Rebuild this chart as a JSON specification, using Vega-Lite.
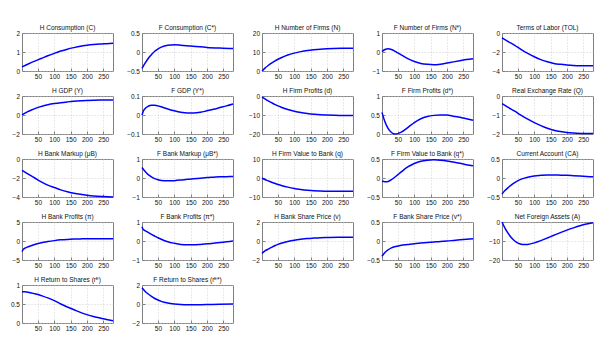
{
  "$schema": "https://vega.github.io/schema/vega-lite/v6.json",
  "padding": {"left": 3, "top": 24, "right": 5, "bottom": 5},
  "background": "white",
  "data": {"values": [
    {"p":"C","t":1,"v":0.22},{"p":"C","t":20,"v":0.37},{"p":"C","t":40,"v":0.52},{"p":"C","t":60,"v":0.66},{"p":"C","t":80,"v":0.8},{"p":"C","t":100,"v":0.93},{"p":"C","t":120,"v":1.05},{"p":"C","t":140,"v":1.15},{"p":"C","t":160,"v":1.23},{"p":"C","t":180,"v":1.3},{"p":"C","t":200,"v":1.35},{"p":"C","t":220,"v":1.39},{"p":"C","t":240,"v":1.42},{"p":"C","t":260,"v":1.44},{"p":"C","t":280,"v":1.46},
    {"p":"Cs","t":1,"v":-0.43},{"p":"Cs","t":10,"v":-0.3},{"p":"Cs","t":20,"v":-0.17},{"p":"Cs","t":30,"v":-0.07},{"p":"Cs","t":40,"v":0.02},{"p":"Cs","t":50,"v":0.08},{"p":"Cs","t":60,"v":0.13},{"p":"Cs","t":80,"v":0.18},{"p":"Cs","t":100,"v":0.19},{"p":"Cs","t":120,"v":0.18},{"p":"Cs","t":150,"v":0.155},{"p":"Cs","t":200,"v":0.12},{"p":"Cs","t":250,"v":0.1},{"p":"Cs","t":280,"v":0.09},
    {"p":"N","t":1,"v":0},{"p":"N","t":10,"v":1.5},{"p":"N","t":20,"v":2.9},{"p":"N","t":30,"v":4.1},{"p":"N","t":40,"v":5.2},{"p":"N","t":50,"v":6.2},{"p":"N","t":60,"v":7},{"p":"N","t":80,"v":8.4},{"p":"N","t":100,"v":9.4},{"p":"N","t":120,"v":10.2},{"p":"N","t":140,"v":10.8},{"p":"N","t":160,"v":11.2},{"p":"N","t":180,"v":11.5},{"p":"N","t":200,"v":11.7},{"p":"N","t":220,"v":11.85},{"p":"N","t":250,"v":11.95},{"p":"N","t":280,"v":12},
    {"p":"Ns","t":1,"v":0.02},{"p":"Ns","t":10,"v":0.13},{"p":"Ns","t":20,"v":0.17},{"p":"Ns","t":30,"v":0.13},{"p":"Ns","t":40,"v":0.05},{"p":"Ns","t":50,"v":-0.05},{"p":"Ns","t":60,"v":-0.15},{"p":"Ns","t":80,"v":-0.35},{"p":"Ns","t":100,"v":-0.5},{"p":"Ns","t":120,"v":-0.6},{"p":"Ns","t":140,"v":-0.65},{"p":"Ns","t":160,"v":-0.67},{"p":"Ns","t":180,"v":-0.64},{"p":"Ns","t":200,"v":-0.58},{"p":"Ns","t":220,"v":-0.52},{"p":"Ns","t":240,"v":-0.46},{"p":"Ns","t":260,"v":-0.4},{"p":"Ns","t":280,"v":-0.35},
    {"p":"TOL","t":1,"v":-0.5},{"p":"TOL","t":20,"v":-0.9},{"p":"TOL","t":40,"v":-1.3},{"p":"TOL","t":60,"v":-1.75},{"p":"TOL","t":80,"v":-2.15},{"p":"TOL","t":100,"v":-2.5},{"p":"TOL","t":120,"v":-2.8},{"p":"TOL","t":140,"v":-3.02},{"p":"TOL","t":160,"v":-3.2},{"p":"TOL","t":180,"v":-3.3},{"p":"TOL","t":200,"v":-3.37},{"p":"TOL","t":220,"v":-3.42},{"p":"TOL","t":250,"v":-3.45},{"p":"TOL","t":280,"v":-3.46},
    {"p":"Y","t":1,"v":0},{"p":"Y","t":10,"v":0.2},{"p":"Y","t":20,"v":0.38},{"p":"Y","t":30,"v":0.53},{"p":"Y","t":40,"v":0.67},{"p":"Y","t":50,"v":0.8},{"p":"Y","t":60,"v":0.9},{"p":"Y","t":80,"v":1.07},{"p":"Y","t":100,"v":1.2},{"p":"Y","t":120,"v":1.3},{"p":"Y","t":140,"v":1.38},{"p":"Y","t":160,"v":1.45},{"p":"Y","t":180,"v":1.5},{"p":"Y","t":200,"v":1.53},{"p":"Y","t":240,"v":1.57},{"p":"Y","t":280,"v":1.58},
    {"p":"Ys","t":1,"v":0.0},{"p":"Ys","t":5,"v":0.02},{"p":"Ys","t":10,"v":0.033},{"p":"Ys","t":20,"v":0.046},{"p":"Ys","t":30,"v":0.051},{"p":"Ys","t":40,"v":0.051},{"p":"Ys","t":50,"v":0.048},{"p":"Ys","t":60,"v":0.043},{"p":"Ys","t":80,"v":0.032},{"p":"Ys","t":100,"v":0.022},{"p":"Ys","t":120,"v":0.014},{"p":"Ys","t":140,"v":0.01},{"p":"Ys","t":160,"v":0.01},{"p":"Ys","t":180,"v":0.014},{"p":"Ys","t":200,"v":0.022},{"p":"Ys","t":220,"v":0.03},{"p":"Ys","t":240,"v":0.039},{"p":"Ys","t":260,"v":0.048},{"p":"Ys","t":280,"v":0.058},
    {"p":"d","t":1,"v":-0.5},{"p":"d","t":10,"v":-1.5},{"p":"d","t":20,"v":-2.6},{"p":"d","t":30,"v":-3.5},{"p":"d","t":40,"v":-4.4},{"p":"d","t":50,"v":-5.2},{"p":"d","t":60,"v":-5.9},{"p":"d","t":80,"v":-7.1},{"p":"d","t":100,"v":-8.0},{"p":"d","t":120,"v":-8.7},{"p":"d","t":140,"v":-9.2},{"p":"d","t":160,"v":-9.6},{"p":"d","t":180,"v":-9.9},{"p":"d","t":200,"v":-10.05},{"p":"d","t":240,"v":-10.25},{"p":"d","t":280,"v":-10.3},
    {"p":"ds","t":1,"v":0.57},{"p":"ds","t":5,"v":0.45},{"p":"ds","t":10,"v":0.32},{"p":"ds","t":20,"v":0.14},{"p":"ds","t":30,"v":0.04},{"p":"ds","t":40,"v":0.0},{"p":"ds","t":50,"v":0.01},{"p":"ds","t":60,"v":0.05},{"p":"ds","t":80,"v":0.17},{"p":"ds","t":100,"v":0.3},{"p":"ds","t":120,"v":0.4},{"p":"ds","t":140,"v":0.46},{"p":"ds","t":160,"v":0.49},{"p":"ds","t":180,"v":0.5},{"p":"ds","t":200,"v":0.5},{"p":"ds","t":220,"v":0.47},{"p":"ds","t":240,"v":0.44},{"p":"ds","t":260,"v":0.4},{"p":"ds","t":280,"v":0.36},
    {"p":"Q","t":1,"v":-0.4},{"p":"Q","t":20,"v":-0.6},{"p":"Q","t":40,"v":-0.8},{"p":"Q","t":60,"v":-1.02},{"p":"Q","t":80,"v":-1.22},{"p":"Q","t":100,"v":-1.4},{"p":"Q","t":120,"v":-1.56},{"p":"Q","t":140,"v":-1.7},{"p":"Q","t":160,"v":-1.8},{"p":"Q","t":180,"v":-1.87},{"p":"Q","t":200,"v":-1.92},{"p":"Q","t":220,"v":-1.95},{"p":"Q","t":250,"v":-1.97},{"p":"Q","t":280,"v":-1.98},
    {"p":"mu","t":1,"v":-1.2},{"p":"mu","t":20,"v":-1.6},{"p":"mu","t":40,"v":-2.0},{"p":"mu","t":60,"v":-2.4},{"p":"mu","t":80,"v":-2.75},{"p":"mu","t":100,"v":-3.0},{"p":"mu","t":120,"v":-3.25},{"p":"mu","t":140,"v":-3.45},{"p":"mu","t":160,"v":-3.6},{"p":"mu","t":180,"v":-3.72},{"p":"mu","t":200,"v":-3.82},{"p":"mu","t":220,"v":-3.9},{"p":"mu","t":250,"v":-3.96},{"p":"mu","t":280,"v":-3.99},
    {"p":"mus","t":1,"v":0.55},{"p":"mus","t":10,"v":0.35},{"p":"mus","t":20,"v":0.18},{"p":"mus","t":30,"v":0.06},{"p":"mus","t":40,"v":-0.03},{"p":"mus","t":50,"v":-0.09},{"p":"mus","t":60,"v":-0.13},{"p":"mus","t":80,"v":-0.15},{"p":"mus","t":100,"v":-0.14},{"p":"mus","t":120,"v":-0.11},{"p":"mus","t":140,"v":-0.07},{"p":"mus","t":160,"v":-0.04},{"p":"mus","t":180,"v":-0.01},{"p":"mus","t":200,"v":0.02},{"p":"mus","t":220,"v":0.04},{"p":"mus","t":240,"v":0.06},{"p":"mus","t":260,"v":0.07},{"p":"mus","t":280,"v":0.08},
    {"p":"q","t":1,"v":0},{"p":"q","t":10,"v":-0.8},{"p":"q","t":20,"v":-1.5},{"p":"q","t":30,"v":-2.2},{"p":"q","t":40,"v":-2.8},{"p":"q","t":50,"v":-3.4},{"p":"q","t":60,"v":-3.9},{"p":"q","t":80,"v":-4.8},{"p":"q","t":100,"v":-5.5},{"p":"q","t":120,"v":-6.0},{"p":"q","t":140,"v":-6.4},{"p":"q","t":160,"v":-6.7},{"p":"q","t":180,"v":-6.85},{"p":"q","t":200,"v":-6.95},{"p":"q","t":240,"v":-7.0},{"p":"q","t":280,"v":-7.0},
    {"p":"qs","t":1,"v":-0.08},{"p":"qs","t":10,"v":-0.1},{"p":"qs","t":20,"v":-0.09},{"p":"qs","t":30,"v":-0.04},{"p":"qs","t":40,"v":0.02},{"p":"qs","t":50,"v":0.09},{"p":"qs","t":60,"v":0.16},{"p":"qs","t":80,"v":0.29},{"p":"qs","t":100,"v":0.38},{"p":"qs","t":120,"v":0.44},{"p":"qs","t":140,"v":0.47},{"p":"qs","t":160,"v":0.48},{"p":"qs","t":180,"v":0.47},{"p":"qs","t":200,"v":0.45},{"p":"qs","t":220,"v":0.42},{"p":"qs","t":240,"v":0.39},{"p":"qs","t":260,"v":0.35},{"p":"qs","t":280,"v":0.32},
    {"p":"CA","t":1,"v":-0.42},{"p":"CA","t":10,"v":-0.33},{"p":"CA","t":20,"v":-0.25},{"p":"CA","t":30,"v":-0.18},{"p":"CA","t":40,"v":-0.12},{"p":"CA","t":50,"v":-0.07},{"p":"CA","t":60,"v":-0.03},{"p":"CA","t":80,"v":0.02},{"p":"CA","t":100,"v":0.055},{"p":"CA","t":120,"v":0.07},{"p":"CA","t":140,"v":0.08},{"p":"CA","t":160,"v":0.08},{"p":"CA","t":180,"v":0.075},{"p":"CA","t":200,"v":0.07},{"p":"CA","t":220,"v":0.06},{"p":"CA","t":240,"v":0.05},{"p":"CA","t":260,"v":0.04},{"p":"CA","t":280,"v":0.03},
    {"p":"pi","t":1,"v":-2.8},{"p":"pi","t":5,"v":-2.2},{"p":"pi","t":10,"v":-1.9},{"p":"pi","t":20,"v":-1.5},{"p":"pi","t":30,"v":-1.2},{"p":"pi","t":40,"v":-0.9},{"p":"pi","t":50,"v":-0.65},{"p":"pi","t":60,"v":-0.45},{"p":"pi","t":80,"v":-0.15},{"p":"pi","t":100,"v":0.1},{"p":"pi","t":120,"v":0.3},{"p":"pi","t":140,"v":0.42},{"p":"pi","t":160,"v":0.5},{"p":"pi","t":180,"v":0.55},{"p":"pi","t":200,"v":0.58},{"p":"pi","t":240,"v":0.6},{"p":"pi","t":280,"v":0.6},
    {"p":"pis","t":1,"v":0.75},{"p":"pis","t":5,"v":0.6},{"p":"pis","t":10,"v":0.55},{"p":"pis","t":20,"v":0.45},{"p":"pis","t":30,"v":0.35},{"p":"pis","t":40,"v":0.26},{"p":"pis","t":50,"v":0.17},{"p":"pis","t":60,"v":0.09},{"p":"pis","t":80,"v":-0.04},{"p":"pis","t":100,"v":-0.12},{"p":"pis","t":120,"v":-0.18},{"p":"pis","t":140,"v":-0.2},{"p":"pis","t":160,"v":-0.2},{"p":"pis","t":180,"v":-0.18},{"p":"pis","t":200,"v":-0.15},{"p":"pis","t":220,"v":-0.12},{"p":"pis","t":240,"v":-0.08},{"p":"pis","t":260,"v":-0.04},{"p":"pis","t":280,"v":0.0},
    {"p":"v","t":1,"v":-1.3},{"p":"v","t":10,"v":-1.05},{"p":"v","t":20,"v":-0.85},{"p":"v","t":30,"v":-0.67},{"p":"v","t":40,"v":-0.5},{"p":"v","t":50,"v":-0.36},{"p":"v","t":60,"v":-0.24},{"p":"v","t":80,"v":-0.06},{"p":"v","t":100,"v":0.08},{"p":"v","t":120,"v":0.18},{"p":"v","t":140,"v":0.26},{"p":"v","t":160,"v":0.31},{"p":"v","t":180,"v":0.35},{"p":"v","t":200,"v":0.37},{"p":"v","t":240,"v":0.39},{"p":"v","t":280,"v":0.4},
    {"p":"vs","t":1,"v":-0.4},{"p":"vs","t":10,"v":-0.3},{"p":"vs","t":20,"v":-0.23},{"p":"vs","t":30,"v":-0.18},{"p":"vs","t":40,"v":-0.15},{"p":"vs","t":50,"v":-0.13},{"p":"vs","t":60,"v":-0.11},{"p":"vs","t":80,"v":-0.09},{"p":"vs","t":100,"v":-0.07},{"p":"vs","t":120,"v":-0.055},{"p":"vs","t":140,"v":-0.04},{"p":"vs","t":160,"v":-0.025},{"p":"vs","t":180,"v":-0.01},{"p":"vs","t":200,"v":0.0},{"p":"vs","t":220,"v":0.015},{"p":"vs","t":240,"v":0.03},{"p":"vs","t":260,"v":0.045},{"p":"vs","t":280,"v":0.06},
    {"p":"A","t":1,"v":0},{"p":"A","t":10,"v":-3.2},{"p":"A","t":20,"v":-6},{"p":"A","t":30,"v":-8.3},{"p":"A","t":40,"v":-10},{"p":"A","t":50,"v":-11.1},{"p":"A","t":60,"v":-11.7},{"p":"A","t":70,"v":-11.9},{"p":"A","t":80,"v":-11.8},{"p":"A","t":100,"v":-11.0},{"p":"A","t":120,"v":-9.8},{"p":"A","t":140,"v":-8.4},{"p":"A","t":160,"v":-7.0},{"p":"A","t":180,"v":-5.6},{"p":"A","t":200,"v":-4.3},{"p":"A","t":220,"v":-3.1},{"p":"A","t":240,"v":-2.0},{"p":"A","t":260,"v":-1.1},{"p":"A","t":280,"v":-0.4},
    {"p":"r","t":1,"v":0.82},{"p":"r","t":10,"v":0.82},{"p":"r","t":20,"v":0.81},{"p":"r","t":30,"v":0.79},{"p":"r","t":40,"v":0.77},{"p":"r","t":50,"v":0.75},{"p":"r","t":60,"v":0.72},{"p":"r","t":80,"v":0.66},{"p":"r","t":100,"v":0.59},{"p":"r","t":120,"v":0.5},{"p":"r","t":140,"v":0.42},{"p":"r","t":160,"v":0.35},{"p":"r","t":180,"v":0.28},{"p":"r","t":200,"v":0.22},{"p":"r","t":220,"v":0.17},{"p":"r","t":240,"v":0.13},{"p":"r","t":260,"v":0.09},{"p":"r","t":280,"v":0.06},
    {"p":"rs","t":1,"v":1.7},{"p":"rs","t":10,"v":1.35},{"p":"rs","t":20,"v":1.05},{"p":"rs","t":30,"v":0.8},{"p":"rs","t":40,"v":0.58},{"p":"rs","t":50,"v":0.42},{"p":"rs","t":60,"v":0.28},{"p":"rs","t":80,"v":0.1},{"p":"rs","t":100,"v":0.0},{"p":"rs","t":120,"v":-0.06},{"p":"rs","t":140,"v":-0.08},{"p":"rs","t":160,"v":-0.08},{"p":"rs","t":180,"v":-0.07},{"p":"rs","t":200,"v":-0.06},{"p":"rs","t":240,"v":-0.03},{"p":"rs","t":280,"v":-0.01}
  ]},
  "columns": 5,
  "spacing": {"row": 3, "column": 6},
  "concat": [
    {"title":"H Consumption (C)","width":91,"height":38,"transform":[{"filter":"datum.p=='C'"}],"mark":"line","encoding":{"x":{"field":"t","type":"quantitative","title":null,"scale":{"domain":[1,280]},"axis":{"values":[50,100,150,200,250]}},"y":{"field":"v","type":"quantitative","title":null,"scale":{"domain":[0,2]},"axis":{"values":[0,1,2]}}}},
    {"title":"F Consumption (C*)","width":91,"height":38,"transform":[{"filter":"datum.p=='Cs'"}],"mark":"line","encoding":{"x":{"field":"t","type":"quantitative","title":null,"scale":{"domain":[1,280]},"axis":{"values":[50,100,150,200,250]}},"y":{"field":"v","type":"quantitative","title":null,"scale":{"domain":[-0.5,0.5]},"axis":{"values":[-0.5,0,0.5]}}}},
    {"title":"H Number of Firms (N)","width":91,"height":38,"transform":[{"filter":"datum.p=='N'"}],"mark":"line","encoding":{"x":{"field":"t","type":"quantitative","title":null,"scale":{"domain":[1,280]},"axis":{"values":[50,100,150,200,250]}},"y":{"field":"v","type":"quantitative","title":null,"scale":{"domain":[0,20]},"axis":{"values":[0,10,20]}}}},
    {"title":"F Number of Firms (N*)","width":91,"height":38,"transform":[{"filter":"datum.p=='Ns'"}],"mark":"line","encoding":{"x":{"field":"t","type":"quantitative","title":null,"scale":{"domain":[1,280]},"axis":{"values":[50,100,150,200,250]}},"y":{"field":"v","type":"quantitative","title":null,"scale":{"domain":[-1,1]},"axis":{"values":[-1,0,1]}}}},
    {"title":"Terms of Labor (TOL)","width":91,"height":38,"transform":[{"filter":"datum.p=='TOL'"}],"mark":"line","encoding":{"x":{"field":"t","type":"quantitative","title":null,"scale":{"domain":[1,280]},"axis":{"values":[50,100,150,200,250]}},"y":{"field":"v","type":"quantitative","title":null,"scale":{"domain":[-4,0]},"axis":{"values":[-4,-2,0]}}}},
    {"title":"H GDP (Y)","width":91,"height":38,"transform":[{"filter":"datum.p=='Y'"}],"mark":"line","encoding":{"x":{"field":"t","type":"quantitative","title":null,"scale":{"domain":[1,280]},"axis":{"values":[50,100,150,200,250]}},"y":{"field":"v","type":"quantitative","title":null,"scale":{"domain":[-2,2]},"axis":{"values":[-2,0,2]}}}},
    {"title":"F GDP (Y*)","width":91,"height":38,"transform":[{"filter":"datum.p=='Ys'"}],"mark":"line","encoding":{"x":{"field":"t","type":"quantitative","title":null,"scale":{"domain":[1,280]},"axis":{"values":[50,100,150,200,250]}},"y":{"field":"v","type":"quantitative","title":null,"scale":{"domain":[-0.1,0.1]},"axis":{"values":[-0.1,0,0.1]}}}},
    {"title":"H Firm Profits (d)","width":91,"height":38,"transform":[{"filter":"datum.p=='d'"}],"mark":"line","encoding":{"x":{"field":"t","type":"quantitative","title":null,"scale":{"domain":[1,280]},"axis":{"values":[50,100,150,200,250]}},"y":{"field":"v","type":"quantitative","title":null,"scale":{"domain":[-20,0]},"axis":{"values":[-20,-10,0]}}}},
    {"title":"F Firm Profits (d*)","width":91,"height":38,"transform":[{"filter":"datum.p=='ds'"}],"mark":"line","encoding":{"x":{"field":"t","type":"quantitative","title":null,"scale":{"domain":[1,280]},"axis":{"values":[50,100,150,200,250]}},"y":{"field":"v","type":"quantitative","title":null,"scale":{"domain":[0,1]},"axis":{"values":[0,0.5,1]}}}},
    {"title":"Real Exchange Rate (Q)","width":91,"height":38,"transform":[{"filter":"datum.p=='Q'"}],"mark":"line","encoding":{"x":{"field":"t","type":"quantitative","title":null,"scale":{"domain":[1,280]},"axis":{"values":[50,100,150,200,250]}},"y":{"field":"v","type":"quantitative","title":null,"scale":{"domain":[-2,0]},"axis":{"values":[-2,-1,0]}}}},
    {"title":"H Bank Markup (μB)","width":91,"height":38,"transform":[{"filter":"datum.p=='mu'"}],"mark":"line","encoding":{"x":{"field":"t","type":"quantitative","title":null,"scale":{"domain":[1,280]},"axis":{"values":[50,100,150,200,250]}},"y":{"field":"v","type":"quantitative","title":null,"scale":{"domain":[-4,0]},"axis":{"values":[-4,-2,0]}}}},
    {"title":"F Bank Markup (μB*)","width":91,"height":38,"transform":[{"filter":"datum.p=='mus'"}],"mark":"line","encoding":{"x":{"field":"t","type":"quantitative","title":null,"scale":{"domain":[1,280]},"axis":{"values":[50,100,150,200,250]}},"y":{"field":"v","type":"quantitative","title":null,"scale":{"domain":[-1,1]},"axis":{"values":[-1,0,1]}}}},
    {"title":"H Firm Value to Bank (q)","width":91,"height":38,"transform":[{"filter":"datum.p=='q'"}],"mark":"line","encoding":{"x":{"field":"t","type":"quantitative","title":null,"scale":{"domain":[1,280]},"axis":{"values":[50,100,150,200,250]}},"y":{"field":"v","type":"quantitative","title":null,"scale":{"domain":[-10,10]},"axis":{"values":[-10,0,10]}}}},
    {"title":"F Firm Value to Bank (q*)","width":91,"height":38,"transform":[{"filter":"datum.p=='qs'"}],"mark":"line","encoding":{"x":{"field":"t","type":"quantitative","title":null,"scale":{"domain":[1,280]},"axis":{"values":[50,100,150,200,250]}},"y":{"field":"v","type":"quantitative","title":null,"scale":{"domain":[-0.5,0.5]},"axis":{"values":[-0.5,0,0.5]}}}},
    {"title":"Current Account (CA)","width":91,"height":38,"transform":[{"filter":"datum.p=='CA'"}],"mark":"line","encoding":{"x":{"field":"t","type":"quantitative","title":null,"scale":{"domain":[1,280]},"axis":{"values":[50,100,150,200,250]}},"y":{"field":"v","type":"quantitative","title":null,"scale":{"domain":[-0.5,0.5]},"axis":{"values":[-0.5,0,0.5]}}}},
    {"title":"H Bank Profits (π)","width":91,"height":38,"transform":[{"filter":"datum.p=='pi'"}],"mark":"line","encoding":{"x":{"field":"t","type":"quantitative","title":null,"scale":{"domain":[1,280]},"axis":{"values":[50,100,150,200,250]}},"y":{"field":"v","type":"quantitative","title":null,"scale":{"domain":[-5,5]},"axis":{"values":[-5,0,5]}}}},
    {"title":"F Bank Profits (π*)","width":91,"height":38,"transform":[{"filter":"datum.p=='pis'"}],"mark":"line","encoding":{"x":{"field":"t","type":"quantitative","title":null,"scale":{"domain":[1,280]},"axis":{"values":[50,100,150,200,250]}},"y":{"field":"v","type":"quantitative","title":null,"scale":{"domain":[-1,1]},"axis":{"values":[-1,0,1]}}}},
    {"title":"H Bank Share Price  (v)","width":91,"height":38,"transform":[{"filter":"datum.p=='v'"}],"mark":"line","encoding":{"x":{"field":"t","type":"quantitative","title":null,"scale":{"domain":[1,280]},"axis":{"values":[50,100,150,200,250]}},"y":{"field":"v","type":"quantitative","title":null,"scale":{"domain":[-2,2]},"axis":{"values":[-2,0,2]}}}},
    {"title":"F Bank Share Price  (v*)","width":91,"height":38,"transform":[{"filter":"datum.p=='vs'"}],"mark":"line","encoding":{"x":{"field":"t","type":"quantitative","title":null,"scale":{"domain":[1,280]},"axis":{"values":[50,100,150,200,250]}},"y":{"field":"v","type":"quantitative","title":null,"scale":{"domain":[-0.5,0.5]},"axis":{"values":[-0.5,0,0.5]}}}},
    {"title":"Net Foreign Assets (A)","width":91,"height":38,"transform":[{"filter":"datum.p=='A'"}],"mark":"line","encoding":{"x":{"field":"t","type":"quantitative","title":null,"scale":{"domain":[1,280]},"axis":{"values":[50,100,150,200,250]}},"y":{"field":"v","type":"quantitative","title":null,"scale":{"domain":[-20,0]},"axis":{"values":[-20,-10,0]}}}},
    {"title":"H Return to Shares  (rᴱ)","width":91,"height":38,"transform":[{"filter":"datum.p=='r'"}],"mark":"line","encoding":{"x":{"field":"t","type":"quantitative","title":null,"scale":{"domain":[1,280]},"axis":{"values":[50,100,150,200,250]}},"y":{"field":"v","type":"quantitative","title":null,"scale":{"domain":[0,1]},"axis":{"values":[0,0.5,1]}}}},
    {"title":"F Return to Shares  (rᴱ*)","width":91,"height":38,"transform":[{"filter":"datum.p=='rs'"}],"mark":"line","encoding":{"x":{"field":"t","type":"quantitative","title":null,"scale":{"domain":[1,280]},"axis":{"values":[50,100,150,200,250]}},"y":{"field":"v","type":"quantitative","title":null,"scale":{"domain":[-2,2]},"axis":{"values":[-2,0,2]}}}}
  ],
  "config": {
    "font": "Liberation Sans",
    "view": {"stroke": "#808080", "strokeWidth": 1},
    "line": {"color": "#0000ff", "strokeWidth": 1.5, "interpolate": "monotone"},
    "title": {"fontSize": 6.5, "fontWeight": "normal", "color": "#111", "offset": -1, "frame": "group", "anchor": "middle"},
    "axis": {"labelFontSize": 6.5, "labelColor": "#111", "labelExpr": "format(datum.value, '~g')", "domain": false, "ticks": true, "tickSize": -3, "tickColor": "#808080", "grid": true, "gridColor": "#c8c8c8", "gridDash": [1, 2], "gridWidth": 0.8},
    "axisX": {"labelPadding": 5, "minExtent": 12, "maxExtent": 12},
    "axisY": {"labelPadding": 5.5, "minExtent": 18, "maxExtent": 18}
  }
}
